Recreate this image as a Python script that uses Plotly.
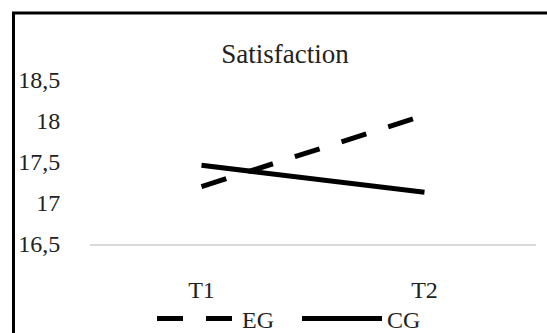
import plotly.graph_objects as go

categories = ["T1", "T2"]
eg_values = [17.2, 18.07]
cg_values = [17.46, 17.13]
y_ticks = [16.5, 17, 17.5, 18, 18.5]
y_tick_labels = ["16,5", "17", "17,5", "18", "18,5"]

FONT = "Liberation Serif"
W, H = 547, 333
L, R, T, B = 90, 11, 80, 89
pw, ph = W - L - R, H - T - B

def px_x(p):
    return (p - L) / pw

def px_y(p):
    return (H - B - p) / ph

fig = go.Figure()
fig.add_trace(go.Scatter(x=categories, y=eg_values, name="EG", mode="lines",
                         line=dict(color="black", width=5, dash="26px,23px")))
fig.add_trace(go.Scatter(x=categories, y=cg_values, name="CG", mode="lines",
                         line=dict(color="black", width=5)))

fig.update_layout(
    width=W, height=H,
    margin=dict(l=L, r=R, t=T, b=B, autoexpand=False),
    paper_bgcolor="white", plot_bgcolor="white",
    font=dict(family=FONT, size=24, color="#222"),
    title=dict(text="Satisfaction", x=285 / W, xanchor="center",
               y=1 - 54 / H, yanchor="middle", yref="container",
               font=dict(family=FONT, size=27, color="#222")),
    showlegend=True,
    legend=dict(orientation="h", x=px_x(152), xref="paper", xanchor="left",
                y=px_y(319), yanchor="middle", itemwidth=80,
                entrywidth=50, entrywidthmode="pixels",
                font=dict(family=FONT, size=24, color="#222"),
                bgcolor="rgba(0,0,0,0)"),
    xaxis=dict(type="category", range=[-0.5, 1.5], showgrid=False, showline=True,
               linecolor="#d9d9d9", linewidth=2, ticks="outside", ticklen=23,
               tickcolor="rgba(0,0,0,0)", zeroline=False, fixedrange=True,
               automargin=False),
    yaxis=dict(range=[16.5, 18.5], tickvals=y_ticks, ticktext=y_tick_labels,
               showgrid=False, showline=False, zeroline=False, ticks="outside",
               ticklen=24, tickcolor="rgba(0,0,0,0)", fixedrange=True,
               automargin=False),
    shapes=[
        dict(type="line", xref="paper", yref="paper", x0=px_x(13.5), x1=px_x(13.5),
             y0=px_y(12.5), y1=px_y(345), line=dict(color="black", width=3)),
        dict(type="line", xref="paper", yref="paper", x0=px_x(12), x1=px_x(560),
             y0=px_y(13), y1=px_y(13), line=dict(color="black", width=3)),
    ],
)

fig.write_html("out.html", config={"displayModeBar": False},
               post_script="document.body.style.margin='0';document.body.style.overflow='hidden';")
